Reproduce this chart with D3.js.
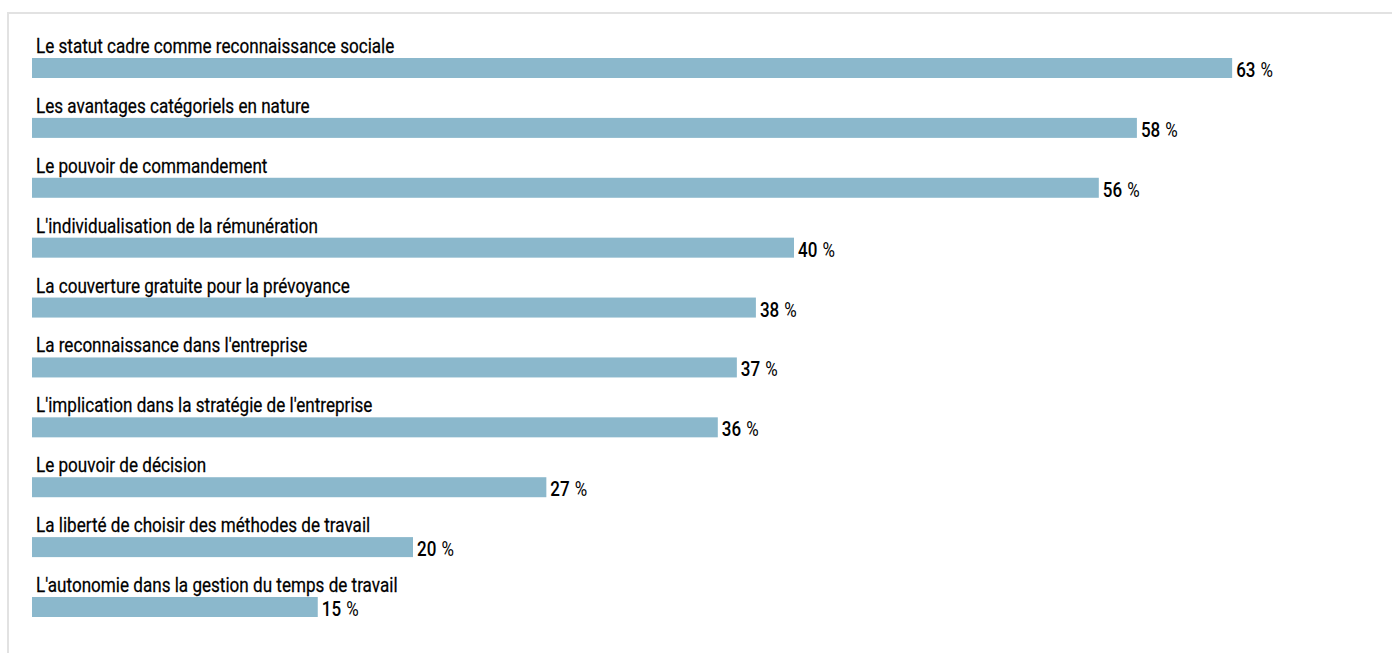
<!DOCTYPE html>
<html>
<head>
<meta charset="utf-8">
<script src="https://cdn.jsdelivr.net/npm/d3@7"></script>
<style>
  html, body { margin: 0; padding: 0; background: #fff; }
  svg { display: block; }
</style>
</head>
<body>
<svg id="chart" width="1392" height="653"></svg>
<script>
const categories = [
  "Le statut cadre comme reconnaissance sociale",
  "Les avantages catégoriels en nature",
  "Le pouvoir de commandement",
  "L'individualisation de la rémunération",
  "La couverture gratuite pour la prévoyance",
  "La reconnaissance dans l'entreprise",
  "L'implication dans la stratégie de l'entreprise",
  "Le pouvoir de décision",
  "La liberté de choisir des méthodes de travail",
  "L'autonomie dans la gestion du temps de travail"
];
const values = [63, 58, 56, 40, 38, 37, 36, 27, 20, 15];
const unit = "%";

const svg = d3.select("#chart");
const W = 1392, H = 653;
const FONT = "Roboto, 'Liberation Sans', sans-serif";

// frame lines (top and left)
svg.append("line").attr("x1", 8).attr("x2", W).attr("y1", 13).attr("y2", 13)
  .attr("stroke", "#e2e2e2").attr("stroke-width", 2);
svg.append("line").attr("x1", 8).attr("x2", 8).attr("y1", 12).attr("y2", H)
  .attr("stroke", "#e2e2e2").attr("stroke-width", 2);

const x = d3.scaleLinear().domain([0, 70]).range([32, 32 + 70 * 19.05]);
const y = d3.scaleBand().domain(categories).range([58, 617]).paddingInner(0.666).paddingOuter(0);

const data = categories.map((c, i) => ({ c, v: values[i] }));

const g = svg.append("g");

g.selectAll("rect.bar").data(data).enter().append("rect")
  .attr("class", "bar")
  .attr("x", x(0))
  .attr("y", d => y(d.c))
  .attr("width", d => x(d.v) - x(0))
  .attr("height", y.bandwidth())
  .attr("fill", "#8bb8cc");

g.selectAll("text.cat").data(data).enter().append("text")
  .attr("class", "cat")
  .attr("transform", d => `translate(${x(0) + 4},${y(d.c) - 5}) scale(0.855,1)`)
  .attr("font-family", FONT)
  .attr("font-size", 20)
  .attr("font-weight", 400)
  .attr("stroke", "#000")
  .attr("stroke-width", 0.25)
  .attr("fill", "#000")
  .text(d => d.c);

const vl = g.selectAll("text.val").data(data).enter().append("text")
  .attr("class", "val")
  .attr("transform", d => `translate(${x(d.v) + 4},${y(d.c) + y.bandwidth() - 1}) scale(0.85,1)`)
  .attr("font-family", FONT)
  .attr("font-size", 20)
  .attr("fill", "#000");
vl.append("tspan").attr("font-weight", 500).text(d => d.v);
vl.append("tspan").attr("font-weight", 400).attr("dx", 6).text(unit);
</script>
</body>
</html>
